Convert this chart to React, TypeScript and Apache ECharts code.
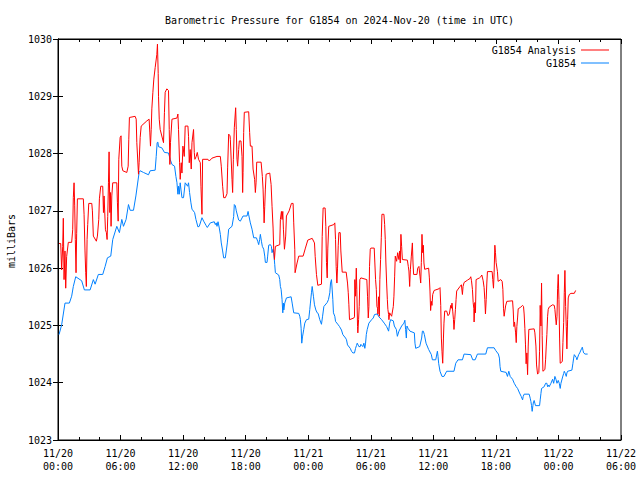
import React, { useEffect, useRef } from "react";
import * as echarts from "echarts";

const titleText = "Barometric Pressure for G1854 on 2024-Nov-20 (time in UTC)";
const yAxisTitle = "milliBars";
const seriesNames = ["G1854 Analysis", "G1854"];
const seriesColors = ["#ff0000", "#0080ff"];
const startMonth = 11;
const startDay = 20;
const xMinHours = 0;
const xMaxHours = 54;
const xStepHours = 6;
const yMin = 1023;
const yMax = 1030;
const yStep = 1;

// G1854 Analysis (hours since 2024-11-20 00:00 UTC, mbar)
const analysisHours = [
  0.10, 0.26, 0.35, 0.45, 0.51, 0.58, 0.67, 0.74, 0.83, 0.99, 1.31, 1.41, 1.47, 1.54, 1.60, 1.66, 1.73, 1.79, 1.86, 2.43,
  2.50, 2.59, 2.66, 2.72, 2.79, 2.85, 2.95, 3.24, 3.30, 3.39, 3.68, 3.78, 3.91, 3.97, 4.10, 4.29, 4.36, 4.42, 4.55, 4.64,
  4.71, 4.77, 4.84, 4.90, 4.97, 5.03, 5.09, 5.16, 5.25, 5.64, 5.70, 5.77, 5.83, 5.96, 6.05, 6.12, 6.22, 6.60, 6.73, 6.79,
  6.85, 7.40, 7.50, 7.56, 7.72, 7.78, 7.88, 7.98, 8.52, 8.74, 8.81, 8.87, 8.94, 9.00, 9.10, 9.19, 9.32, 9.48, 9.54, 9.61,
  9.64, 9.71, 9.80, 10.12, 10.21, 10.28, 10.44, 10.60, 10.67, 10.73, 10.79, 10.93, 11.41, 11.50, 11.56, 11.66, 11.72, 11.82, 11.89, 11.98,
  12.11, 12.20, 12.46, 12.52, 12.59, 12.68, 12.78, 12.85, 13.00, 13.07, 13.13, 13.26, 13.36, 13.48, 13.65, 13.71, 13.81, 13.87, 14.38, 14.51,
  14.77, 15.25, 15.57, 15.66, 15.79, 15.89, 16.05, 16.21, 16.27, 16.37, 16.50, 16.53, 16.69, 16.75, 16.82, 16.91, 17.04, 17.10, 17.17, 17.23,
  17.33, 17.39, 17.55, 17.65, 17.71, 17.75, 17.81, 17.87, 18.29, 18.38, 18.45, 18.61, 18.71, 18.86, 18.93, 19.00, 19.06, 19.48, 19.60, 19.67,
  19.73, 19.77, 19.83, 19.89, 19.96, 20.31, 20.44, 20.53, 20.63, 20.69, 20.76, 20.85, 21.27, 21.33, 21.43, 21.49, 21.56, 21.62, 21.72, 21.84,
  21.91, 22.17, 22.39, 22.55, 22.61, 22.71, 22.74, 22.93, 23.09, 23.51, 23.73, 23.96, 24.38, 24.60, 24.67, 24.79, 24.92, 25.27, 25.34, 25.43,
  25.62, 25.69, 25.75, 25.82, 25.88, 25.97, 26.45, 26.55, 26.62, 26.68, 26.75, 26.81, 26.88, 26.94, 27.07, 27.13, 27.26, 27.64, 27.77, 27.84,
  27.90, 27.96, 28.38, 28.44, 28.47, 28.54, 28.61, 28.66, 28.73, 28.76, 28.83, 28.89, 28.95, 29.05, 29.62, 29.69, 29.76, 29.82, 29.88, 29.95,
  30.01, 30.33, 30.39, 30.46, 30.53, 30.59, 30.65, 30.68, 30.75, 30.82, 30.87, 30.94, 31.01, 31.07, 31.26, 31.33, 31.39, 31.45, 31.52, 31.59,
  31.64, 31.71, 31.74, 31.81, 32.00, 32.16, 32.22, 32.29, 32.35, 32.48, 32.58, 32.70, 32.77, 32.83, 32.89, 32.96, 33.03, 33.51, 33.60, 33.66,
  33.73, 33.80, 33.89, 33.99, 34.05, 34.11, 34.43, 34.50, 34.62, 34.72, 34.79, 34.85, 34.91, 34.98, 35.04, 35.10, 35.17, 35.55, 35.62, 35.68,
  35.74, 35.81, 35.87, 35.94, 36.07, 36.54, 36.64, 36.71, 36.77, 36.83, 36.90, 36.97, 37.02, 37.09, 37.28, 37.41, 37.54, 37.67, 37.73, 37.79,
  37.86, 37.93, 37.98, 38.05, 38.12, 38.18, 38.24, 38.56, 38.69, 38.79, 38.85, 38.95, 39.27, 39.52, 39.59, 39.66, 39.75, 39.82, 39.88, 39.91,
  39.98, 40.04, 40.10, 40.43, 40.55, 40.65, 40.78, 40.87, 40.94, 41.00, 41.07, 41.13, 41.19, 41.64, 41.70, 41.77, 41.83, 41.90, 41.96, 42.02,
  42.15, 42.21, 42.47, 42.60, 42.67, 42.73, 42.79, 42.93, 43.05, 43.60, 43.66, 43.73, 43.79, 43.89, 43.95, 44.01, 44.08, 44.14, 44.39, 44.56,
  44.65, 44.71, 44.78, 44.84, 44.90, 44.97, 45.04, 45.10, 45.16, 45.67, 45.74, 45.84, 45.90, 46.00, 46.12, 46.19, 46.25, 46.32, 46.38, 46.44,
  46.51, 46.70, 46.77, 46.83, 46.89, 46.96, 47.02, 47.11, 47.44, 47.60, 47.66, 47.73, 47.79, 47.86, 47.92, 47.98, 48.05, 48.11, 48.17, 48.37,
  48.43, 48.50, 48.56, 48.62, 48.69, 48.75, 48.81, 48.88, 48.94, 49.04, 49.20, 49.52, 49.65,
];
const analysisValues = [
  1026.43, 1026.43, 1025.97, 1026.38, 1026.87, 1025.80, 1026.30, 1025.65, 1026.20, 1026.45, 1026.45, 1026.67, 1027.23, 1027.49, 1027.10, 1026.50, 1025.92, 1026.60, 1027.21, 1027.21,
  1026.94, 1026.30, 1025.92, 1025.68, 1026.50, 1026.76, 1027.13, 1027.13, 1027.00, 1026.56, 1026.47, 1026.56, 1026.85, 1027.21, 1027.43, 1027.43, 1026.97, 1027.26, 1026.67, 1026.62,
  1026.50, 1026.90, 1027.49, 1028.03, 1026.97, 1027.32, 1026.73, 1027.26, 1027.49, 1027.49, 1027.14, 1026.82, 1027.90, 1028.28, 1028.31, 1027.78, 1027.70, 1027.67, 1027.78, 1028.25,
  1028.63, 1028.65, 1028.60, 1028.19, 1027.64, 1027.84, 1028.28, 1028.48, 1028.57, 1028.60, 1028.36, 1028.13, 1028.42, 1028.78, 1029.07, 1029.30, 1029.50, 1029.73, 1029.91, 1029.40,
  1029.00, 1028.60, 1028.42, 1028.19, 1028.72, 1029.07, 1029.13, 1029.10, 1028.42, 1027.81, 1028.19, 1028.60, 1028.62, 1028.69, 1028.42, 1027.84, 1027.55, 1027.84, 1027.66, 1028.13,
  1027.95, 1028.48, 1028.48, 1028.30, 1027.84, 1028.07, 1027.73, 1028.19, 1028.42, 1028.02, 1027.90, 1027.95, 1028.02, 1027.90, 1027.84, 1027.43, 1026.94, 1027.90, 1027.90, 1027.87,
  1027.92, 1027.95, 1027.95, 1027.78, 1027.43, 1027.23, 1027.23, 1027.30, 1027.75, 1028.34, 1028.31, 1028.25, 1027.55, 1027.32, 1027.90, 1028.45, 1028.80, 1028.42, 1027.90, 1027.78,
  1028.07, 1028.22, 1028.22, 1027.95, 1027.32, 1027.67, 1028.37, 1028.72, 1028.73, 1028.37, 1028.13, 1028.13, 1027.73, 1027.55, 1027.32, 1027.50, 1027.85, 1027.85, 1027.60, 1027.38,
  1027.03, 1026.79, 1027.08, 1027.38, 1027.64, 1027.66, 1027.46, 1027.08, 1026.70, 1026.33, 1026.15, 1026.38, 1026.41, 1026.85, 1026.99, 1026.85, 1026.99, 1026.68, 1026.33, 1026.56,
  1026.91, 1027.00, 1027.13, 1027.13, 1026.79, 1026.33, 1025.92, 1026.09, 1026.21, 1026.21, 1026.35, 1026.49, 1026.52, 1026.44, 1026.20, 1025.89, 1025.70, 1025.72, 1026.55, 1027.05,
  1027.05, 1026.73, 1026.10, 1025.83, 1026.35, 1026.73, 1026.76, 1026.79, 1026.50, 1026.03, 1025.74, 1026.00, 1026.40, 1026.62, 1026.62, 1026.30, 1025.93, 1025.93, 1025.74, 1025.57,
  1025.36, 1025.10, 1025.13, 1025.15, 1025.80, 1025.51, 1026.00, 1025.63, 1024.98, 1024.87, 1025.10, 1025.33, 1025.80, 1025.83, 1025.80, 1025.51, 1025.13, 1025.33, 1026.03, 1026.33,
  1026.35, 1026.35, 1026.09, 1025.80, 1025.63, 1025.33, 1025.30, 1025.20, 1025.50, 1025.16, 1025.80, 1026.15, 1026.53, 1026.94, 1026.94, 1026.76, 1026.50, 1026.09, 1025.74, 1025.45,
  1025.28, 1025.19, 1025.10, 1025.22, 1025.16, 1025.33, 1025.51, 1025.86, 1026.21, 1026.12, 1026.27, 1026.15, 1026.30, 1026.09, 1026.59, 1026.38, 1026.15, 1026.14, 1026.03, 1025.95,
  1025.68, 1025.98, 1026.21, 1026.44, 1026.09, 1025.89, 1025.89, 1026.00, 1026.03, 1025.86, 1025.74, 1026.10, 1026.59, 1026.27, 1026.40, 1026.09, 1025.98, 1026.00, 1025.83, 1025.60,
  1025.26, 1025.42, 1025.35, 1025.54, 1025.61, 1025.64, 1025.66, 1025.35, 1024.78, 1024.55, 1024.34, 1024.78, 1025.04, 1025.25, 1025.25, 1025.17, 1025.20, 1025.35, 1025.30, 1025.39,
  1025.25, 1025.10, 1024.93, 1025.10, 1025.28, 1025.45, 1025.60, 1025.68, 1025.71, 1025.54, 1025.68, 1025.75, 1025.79, 1025.82, 1025.85, 1025.78, 1025.63, 1025.40, 1025.30, 1025.06,
  1025.40, 1025.22, 1025.80, 1025.83, 1025.85, 1025.88, 1025.78, 1025.66, 1025.45, 1025.20, 1025.45, 1025.74, 1025.94, 1025.94, 1025.80, 1025.65, 1025.92, 1026.40, 1026.27, 1026.10,
  1025.94, 1025.77, 1025.80, 1025.77, 1025.63, 1025.30, 1025.16, 1025.34, 1025.42, 1025.43, 1025.27, 1024.98, 1025.06, 1024.87, 1024.70, 1024.98, 1025.13, 1025.29, 1025.32, 1025.35,
  1025.33, 1025.20, 1024.95, 1024.66, 1024.33, 1024.52, 1024.14, 1024.64, 1024.93, 1024.94, 1024.87, 1024.64, 1024.31, 1024.15, 1024.18, 1024.55, 1025.35, 1024.99, 1025.74, 1024.82,
  1024.20, 1024.23, 1024.41, 1024.64, 1024.84, 1025.16, 1025.28, 1025.32, 1025.36, 1025.35, 1025.28, 1025.13, 1025.01, 1025.16, 1025.65, 1025.89, 1025.45, 1024.78, 1024.34, 1024.37,
  1024.70, 1025.05, 1025.57, 1025.96, 1025.33, 1024.98, 1024.59, 1025.10, 1025.48, 1025.54, 1025.56, 1025.56, 1025.61,
];

// G1854 station (hours since 2024-11-20 00:00 UTC, mbar)
const stationHours = [
  0.10, 0.35, 0.67, 1.09, 1.31, 1.47, 1.70, 2.27, 2.53, 3.08, 3.39, 3.56, 3.87, 4.29, 4.52, 4.74, 5.06, 5.25, 5.64, 5.89,
  6.12, 6.28, 6.53, 6.76, 6.92, 7.24, 7.47, 7.78, 7.88, 8.20, 8.68, 8.84, 9.32, 9.42, 9.51, 9.58, 9.64, 9.96, 10.21, 10.60,
  10.76, 10.93, 11.18, 11.31, 11.41, 11.50, 11.56, 11.63, 11.72, 11.79, 11.89, 12.04, 12.20, 12.43, 12.52, 12.62, 12.75, 12.85, 13.10, 13.23,
  13.42, 13.55, 13.81, 13.97, 14.22, 14.32, 14.61, 14.99, 15.09, 15.18, 15.25, 15.35, 15.47, 15.57, 15.66, 15.79, 15.89, 16.05, 16.14, 16.24,
  16.37, 16.69, 16.85, 16.91, 17.01, 17.10, 17.33, 17.49, 17.75, 18.13, 18.23, 18.29, 18.45, 18.61, 18.77, 19.03, 19.15, 19.25, 19.34, 19.41,
  19.51, 19.60, 19.73, 19.83, 19.89, 20.05, 20.11, 20.21, 20.37, 20.47, 20.53, 20.63, 20.69, 20.79, 20.85, 21.17, 21.27, 21.33, 21.40, 21.49,
  21.56, 21.62, 21.66, 21.75, 21.91, 22.36, 22.46, 22.61, 23.09, 23.19, 23.25, 23.32, 23.38, 23.45, 23.57, 23.67, 23.83, 24.05, 24.15, 24.21,
  24.31, 24.38, 24.44, 24.50, 24.60, 24.73, 24.86, 24.95, 25.11, 25.27, 25.37, 25.50, 25.82, 25.94, 26.07, 26.14, 26.23, 26.30, 26.36, 26.42,
  26.55, 26.62, 26.88, 27.00, 27.19, 27.32, 27.58, 27.67, 27.77, 28.03, 28.15, 28.28, 28.44, 28.54, 28.63, 28.70, 28.86, 28.99, 29.05, 29.24,
  29.34, 29.43, 29.50, 29.57, 29.66, 29.82, 30.08, 30.24, 30.36, 30.62, 30.78, 31.04, 31.29, 31.52, 31.71, 31.81, 31.90, 32.16, 32.26, 32.45,
  32.55, 32.70, 32.96, 33.18, 33.27, 33.34, 33.41, 33.47, 33.57, 33.76, 34.18, 34.24, 34.31, 34.69, 34.88, 34.95, 35.04, 35.14, 35.30, 35.55,
  35.81, 35.91, 36.23, 36.39, 36.45, 36.51, 36.64, 36.83, 37.02, 37.28, 37.98, 38.15, 38.37, 38.79, 38.95, 39.59, 39.78, 40.01, 40.23, 41.03,
  41.19, 41.83, 41.99, 42.24, 42.34, 42.40, 42.47, 42.98, 43.11, 43.24, 43.37, 43.60, 43.76, 43.95, 44.08, 44.27, 44.43, 44.56, 44.62, 44.71,
  45.19, 45.29, 45.36, 45.42, 45.48, 45.55, 45.61, 45.67, 45.74, 45.80, 46.19, 46.25, 46.32, 46.38, 46.63, 46.77, 46.89, 46.96, 47.05, 47.11,
  47.28, 47.44, 47.54, 47.66, 47.76, 47.86, 47.98, 48.08, 48.17, 48.24, 48.40, 48.50, 48.56, 48.66, 48.75, 48.81, 48.88, 49.29, 49.39, 49.46,
  49.52, 49.71, 49.77, 49.94, 50.04, 50.23, 50.29, 50.36, 50.42, 50.55, 50.80,
];
const stationValues = [
  1024.84, 1025.01, 1025.39, 1025.39, 1025.51, 1025.68, 1025.85, 1025.78, 1025.62, 1025.62, 1025.80, 1025.72, 1025.89, 1025.89, 1026.03, 1026.18, 1026.21, 1026.50, 1026.73, 1026.62,
  1026.85, 1026.73, 1026.85, 1027.11, 1027.01, 1027.01, 1027.26, 1027.67, 1027.70, 1027.67, 1027.63, 1027.70, 1027.71, 1027.95, 1028.19, 1028.20, 1028.12, 1028.10, 1028.02, 1028.01,
  1027.90, 1027.81, 1027.78, 1027.60, 1027.49, 1027.29, 1027.43, 1027.29, 1027.49, 1027.38, 1027.23, 1027.23, 1027.49, 1027.43, 1027.49, 1027.32, 1027.14, 1027.03, 1026.97, 1026.85,
  1026.72, 1026.73, 1026.88, 1026.82, 1026.74, 1026.71, 1026.79, 1026.81, 1026.76, 1026.79, 1026.73, 1026.81, 1026.70, 1026.59, 1026.44, 1026.30, 1026.18, 1026.18, 1026.30, 1026.44,
  1026.68, 1026.73, 1026.90, 1027.11, 1027.09, 1027.00, 1026.84, 1026.82, 1026.91, 1026.91, 1026.99, 1026.93, 1026.79, 1026.68, 1026.53, 1026.53, 1026.47, 1026.41, 1026.50, 1026.59,
  1026.47, 1026.38, 1026.33, 1026.21, 1026.10, 1026.10, 1026.21, 1026.40, 1026.41, 1026.38, 1026.27, 1026.33, 1026.27, 1026.06, 1025.92, 1025.88, 1025.80, 1025.68, 1025.63, 1025.45,
  1025.22, 1025.39, 1025.27, 1025.39, 1025.48, 1025.50, 1025.39, 1025.22, 1025.21, 1025.16, 1025.10, 1024.95, 1024.69, 1024.80, 1024.93, 1025.04, 1025.10, 1025.11, 1025.28, 1025.39,
  1025.57, 1025.68, 1025.68, 1025.51, 1025.36, 1025.27, 1025.22, 1025.21, 1025.10, 1025.02, 1025.15, 1025.33, 1025.40, 1025.45, 1025.57, 1025.74, 1025.80, 1025.62, 1025.45, 1025.22,
  1025.16, 1025.07, 1025.01, 1024.98, 1024.92, 1024.84, 1024.78, 1024.75, 1024.66, 1024.60, 1024.55, 1024.52, 1024.52, 1024.60, 1024.65, 1024.69, 1024.63, 1024.63, 1024.67, 1024.63,
  1024.69, 1024.60, 1024.69, 1024.84, 1024.93, 1025.04, 1025.10, 1025.13, 1025.19, 1025.20, 1025.15, 1025.10, 1025.04, 1024.98, 1024.90, 1025.04, 1025.10, 1025.08, 1024.99, 1024.93,
  1024.81, 1024.90, 1024.99, 1025.04, 1025.09, 1024.93, 1024.78, 1024.99, 1024.95, 1024.90, 1024.87, 1024.69, 1024.60, 1024.63, 1024.78, 1024.90, 1024.90, 1024.84, 1024.69, 1024.58,
  1024.49, 1024.40, 1024.40, 1024.55, 1024.46, 1024.34, 1024.20, 1024.11, 1024.11, 1024.20, 1024.20, 1024.34, 1024.40, 1024.40, 1024.50, 1024.49, 1024.40, 1024.40, 1024.50, 1024.50,
  1024.61, 1024.61, 1024.56, 1024.50, 1024.43, 1024.28, 1024.20, 1024.18, 1024.11, 1024.20, 1024.11, 1024.06, 1023.99, 1023.93, 1023.90, 1023.82, 1023.76, 1023.70, 1023.76, 1023.80,
  1023.80, 1023.73, 1023.67, 1023.60, 1023.50, 1023.60, 1023.67, 1023.69, 1023.64, 1023.60, 1023.60, 1023.70, 1023.81, 1023.90, 1023.93, 1023.99, 1023.99, 1023.93, 1023.96, 1023.93,
  1023.99, 1024.06, 1023.99, 1024.11, 1024.06, 1023.99, 1024.04, 1023.99, 1023.90, 1023.99, 1024.10, 1024.16, 1024.20, 1024.16, 1024.11, 1024.17, 1024.20, 1024.22, 1024.34, 1024.43,
  1024.49, 1024.44, 1024.40, 1024.49, 1024.52, 1024.60, 1024.62, 1024.56, 1024.52, 1024.50, 1024.50,
];

const FONT = "DejaVu Sans Mono";

function pad2(n: number): string {
  return n < 10 ? "0" + n : String(n);
}

function formatTick(v: number): string {
  const day = startDay + Math.floor(v / 24);
  const hh = Math.round(v % 24);
  return `${pad2(startMonth)}/${pad2(day)}\n${pad2(hh)}:00`;
}

function formatY(v: number): string {
  return String(Math.round(v));
}

function pairs(xs: number[], ys: number[]): number[][] {
  return xs.map((x, i) => [x, ys[i]]);
}

export default function App() {
  const ref = useRef<HTMLDivElement>(null);

  useEffect(() => {
    document.body.style.margin = "0";
    if (!ref.current) return;
    const chart = echarts.init(ref.current, null, { renderer: "svg" });

    const tickCommon = {
      axisLine: { show: true, lineStyle: { color: "#000", width: 1 } },
      axisTick: { show: true, inside: true, length: 5, lineStyle: { color: "#000", width: 1 } },
      splitLine: { show: false },
    };

    const legendCommon = {
      orient: "horizontal" as const,
      align: "right" as const,
      icon: "rect",
      itemWidth: 28,
      itemHeight: 1,
      padding: 0,
      right: 31,
      selectedMode: false,
      textStyle: { fontFamily: FONT, fontSize: 10, color: "#000" },
    };

    chart.setOption({
      animation: false,
      backgroundColor: "#fff",
      grid: {
        left: 58,
        right: 19,
        top: 39,
        bottom: 40,
        show: true,
        borderColor: "#000",
        borderWidth: 1,
        backgroundColor: "transparent",
      },
      legend: [
        { ...legendCommon, top: 45, data: [seriesNames[0]] },
        { ...legendCommon, top: 58, data: [seriesNames[1]] },
      ],
      xAxis: [
        {
          type: "value",
          position: "bottom",
          min: xMinHours,
          max: xMaxHours,
          interval: xStepHours,
          ...tickCommon,
          minorTick: { show: true, splitNumber: 3, length: 3, lineStyle: { color: "#000", width: 1 } },
          axisLabel: {
            formatter: formatTick,
            fontFamily: FONT,
            fontSize: 10,
            color: "#000",
            lineHeight: 13,
            margin: 7,
          },
        },
        {
          type: "value",
          position: "top",
          min: xMinHours,
          max: xMaxHours,
          interval: xStepHours,
          ...tickCommon,
          minorTick: { show: true, splitNumber: 3, length: 3, lineStyle: { color: "#000", width: 1 } },
          axisLabel: { show: false },
        },
      ],
      yAxis: [
        {
          type: "value",
          position: "left",
          min: yMin,
          max: yMax,
          interval: yStep,
          ...tickCommon,
          axisLabel: { formatter: formatY, fontFamily: FONT, fontSize: 10, color: "#000", margin: 6 },
        },
        {
          type: "value",
          position: "right",
          min: yMin,
          max: yMax,
          interval: yStep,
          ...tickCommon,
          axisLabel: { show: false },
        },
      ],
      graphic: [
        {
          type: "text",
          x: 339.5,
          y: 20,
          style: {
            text: titleText,
            font: `10px "${FONT}"`,
            fill: "#000",
            textAlign: "center",
            textVerticalAlign: "middle",
          },
        },
        {
          type: "text",
          x: 11,
          y: 241,
          rotation: Math.PI / 2,
          style: {
            text: yAxisTitle,
            font: `10px "${FONT}"`,
            fill: "#000",
            textAlign: "center",
            textVerticalAlign: "middle",
          },
        },
      ],
      series: [
        {
          name: seriesNames[0],
          type: "line",
          xAxisIndex: 0,
          yAxisIndex: 0,
          data: pairs(analysisHours, analysisValues),
          showSymbol: false,
          symbol: "none",
          lineStyle: { color: seriesColors[0], width: 1 },
          itemStyle: { color: seriesColors[0] },
          z: 3,
        },
        {
          name: seriesNames[1],
          type: "line",
          xAxisIndex: 0,
          yAxisIndex: 0,
          data: pairs(stationHours, stationValues),
          showSymbol: false,
          symbol: "none",
          lineStyle: { color: seriesColors[1], width: 1 },
          itemStyle: { color: seriesColors[1] },
          z: 2,
        },
      ],
    });

    return () => {
      chart.dispose();
    };
  }, []);

  return <div ref={ref} style={{ width: 640, height: 480 }} />;
}
